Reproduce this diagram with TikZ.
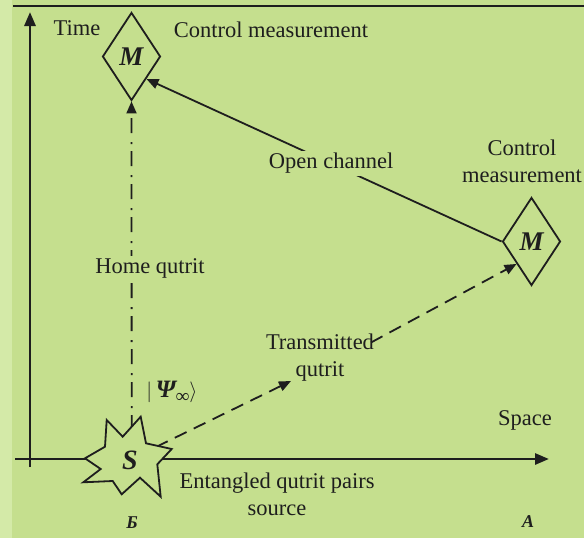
\documentclass[tikz,border=0pt]{standalone}
\usepackage{fontspec}
\setmainfont{Liberation Serif}
\usetikzlibrary{shapes.geometric,arrows.meta}
\definecolor{bg}{RGB}{197,223,142}
\definecolor{strip}{RGB}{212,234,168}
\definecolor{ink}{RGB}{30,30,30}
\begin{document}
\begin{tikzpicture}[x=1pt,y=-1pt,
  txt/.style={font=\fontsize{22.5}{27}\selectfont, text=ink, align=center, inner sep=1pt},
  lbl/.style={txt, fill=bg, inner sep=2pt},
  bigit/.style={font=\fontsize{28}{28}\selectfont\bfseries\itshape, text=ink, inner sep=0pt},
  smallit/.style={font=\fontsize{18}{18}\selectfont\bfseries\itshape, text=ink, inner sep=0pt},
  meas/.style={draw=ink, line width=1.8pt, shape=diamond, fill=bg, minimum width=58pt, minimum height=88pt, inner sep=0pt, font=\fontsize{27}{27}\selectfont\bfseries\itshape, text=ink},
  conn/.style={draw=ink, line width=1.8pt},
  tip/.style={-{Triangle[length=12pt,width=10pt]}},
  axisline/.style={draw=ink, line width=2.8pt, -{Triangle[length=14pt,width=11pt]}},
  dashdot/.style={dash pattern=on 15pt off 7pt on 2pt off 9pt},
  dashline/.style={dash pattern=on 13pt off 8pt},
]
\useasboundingbox (0,0) rectangle (584,538);
\fill[bg] (0,0) rectangle (584,538);
\fill[strip] (0,0) rectangle (12,538);
\draw[ink, line width=2.5pt] (13,6) -- (584,6);

% axes
\coordinate (vb) at (30,467);
\coordinate (vt) at (30,12);
\coordinate (hl) at (15,459);
\coordinate (hr) at (549,459);
\draw[axisline] (vb) -- (vt);
\draw[axisline] (hl) -- (hr);

% measurement diamonds
\node[meas] (tM) at (131.5,56.5) {M};
\node[meas] (rM) at (531.5,241.5) {M};

% home qutrit
\coordinate (hq) at (131.7,430);
\draw[conn, dashdot, tip] (hq) -- (tM.south);
\node[lbl] (home) at (150,268) {Home qutrit};

% transmitted qutrit
\coordinate (tq0) at (156,447);
\coordinate (tq1) at (291,381);
\coordinate (tq2) at (371,342.5);
\draw[conn, dashline, tip] (tq0) -- (tq1);
\draw[conn, dashline, tip] (tq2) -- (rM.south west);
\node[txt] (trans) at (320,358) {Transmitted\\qutrit};

% open channel
\draw[conn, tip] (rM.west) -- node[lbl, pos=0.48] (open) {Open channel} (tM.south east);

% source star
\draw[ink, line width=1.8pt, fill=bg, line join=miter]
  (140.7,416.7) -- (146.0,443.3) -- (171.7,449.0) -- (157.3,464.3) -- (160.7,496.7)
  -- (140.0,477.7) -- (121.7,494.3) -- (112.7,481.0) -- (83.3,482.3) -- (100.7,469.0)
  -- (85.0,458.3) -- (105.0,446.7) -- (106.7,420.0) -- (122.7,436.7) -- cycle;
\node[bigit] (S) at (130,460) {S};

% texts
\node[txt] (time) at (77,28) {Time};
\node[txt] (cm1) at (271,30) {Control measurement};
\node[txt] (cm2) at (522,161) {Control\\measurement};
\node[txt] (psi) at (172,392) {$|$\,{\fontsize{25}{25}\selectfont\bfseries\itshape Ψ}\raisebox{-5pt}{\fontsize{19}{19}\selectfont\bfseries ∞}$\rangle$};
\node[txt] (ent) at (277,494) {Entangled qutrit pairs\\source};
\node[txt] (space) at (525,420) {Space};
\node[smallit] (B) at (132,523) {Б};
\node[smallit] (A) at (528,522) {A};
\end{tikzpicture}
\end{document}
